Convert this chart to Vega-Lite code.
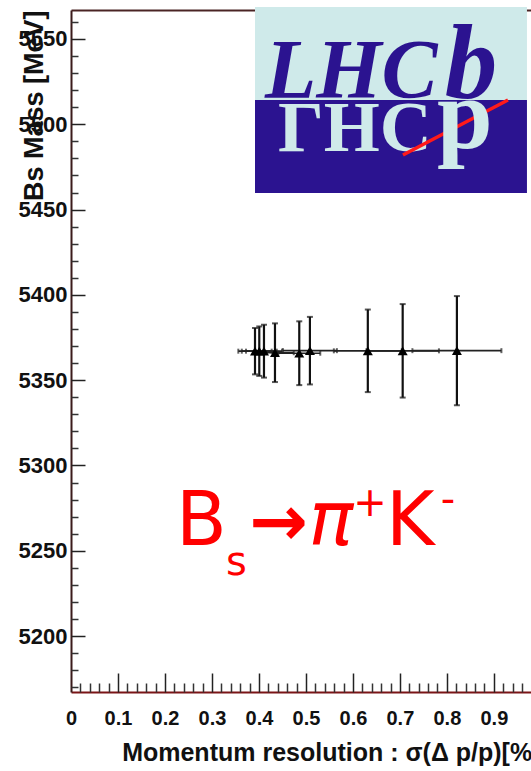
{
  "$schema": "https://vega.github.io/schema/vega-lite/v6.json",
  "width": 460,
  "height": 682,
  "autosize": "none",
  "padding": {"left": 71, "top": 10, "right": 0, "bottom": 79},
  "background": "white",
  "config": {
    "view": {"stroke": null},
    "axis": {"grid": false}
  },
  "data": {
    "values": [
      {"sigma": 0.3916, "sigma_lo": 0.3561, "sigma_hi": 0.4271, "mass": 5367.0, "mass_lo": 5353.4, "mass_hi": 5380.6},
      {"sigma": 0.4007, "sigma_lo": 0.3635, "sigma_hi": 0.4379, "mass": 5367.0, "mass_lo": 5352.5, "mass_hi": 5381.5},
      {"sigma": 0.4107, "sigma_lo": 0.3724, "sigma_hi": 0.4490, "mass": 5367.0, "mass_lo": 5351.5, "mass_hi": 5382.5},
      {"sigma": 0.4341, "sigma_lo": 0.3941, "sigma_hi": 0.4741, "mass": 5366.1, "mass_lo": 5348.9, "mass_hi": 5383.3},
      {"sigma": 0.4858, "sigma_lo": 0.4411, "sigma_hi": 0.5305, "mass": 5365.8, "mass_lo": 5347.1, "mass_hi": 5384.5},
      {"sigma": 0.5085, "sigma_lo": 0.4511, "sigma_hi": 0.5659, "mass": 5367.3, "mass_lo": 5347.5, "mass_hi": 5387.1},
      {"sigma": 0.6317, "sigma_lo": 0.5594, "sigma_hi": 0.7040, "mass": 5367.2, "mass_lo": 5343.0, "mass_hi": 5391.4},
      {"sigma": 0.7059, "sigma_lo": 0.6287, "sigma_hi": 0.7831, "mass": 5367.2, "mass_lo": 5339.8, "mass_hi": 5394.6},
      {"sigma": 0.8213, "sigma_lo": 0.7266, "sigma_hi": 0.9160, "mass": 5367.3, "mass_lo": 5335.3, "mass_hi": 5399.3}
    ]
  },
  "resolve": {"axis": {"x": "independent", "y": "independent"}},
  "layer": [
    {
      "mark": {"type": "rule", "color": "#111", "strokeWidth": 2.2},
      "encoding": {
        "x": {
          "field": "sigma", "type": "quantitative",
          "scale": {"domain": [0, 0.979], "nice": false, "zero": false},
          "axis": {
            "orient": "bottom",
            "values": [0, 0.1, 0.2, 0.3, 0.4, 0.5, 0.6, 0.7, 0.8, 0.9],
            "format": ".1~f",
            "ticks": false,
            "domainColor": "#7a1416", "domainWidth": 2,
            "labelFont": "Liberation Sans", "labelFontWeight": "bold", "labelFontSize": 20,
            "labelColor": "#111", "labelPadding": 16, "labelFlush": false, "labelOverlap": false, "labelBound": false,
            "title": "Momentum resolution : σ(Δ p/p)[%]",
            "titleFont": "Liberation Sans", "titleFontWeight": "bold", "titleFontSize": 25, "titleColor": "#111",
            "titleX": 469, "titleY": 68, "titleAlign": "right", "titleBaseline": "alphabetic", "titleAnchor": "end"
          }
        },
        "y": {
          "field": "mass_lo", "type": "quantitative",
          "scale": {"domain": [5167.2, 5567], "nice": false, "zero": false},
          "axis": {
            "orient": "left",
            "values": [5200, 5250, 5300, 5350, 5400, 5450, 5500, 5550],
            "format": "d",
            "ticks": false,
            "domainColor": "#3b1b1b", "domainWidth": 2,
            "labelFont": "Liberation Sans", "labelFontWeight": "bold", "labelFontSize": 22,
            "labelColor": "#111", "labelPadding": 4, "labelAlign": "right", "labelBaseline": "middle",
            "labelFlush": false, "labelOverlap": false, "labelBound": false,
            "title": "Bs Mass [MeV]",
            "titleFont": "Liberation Sans", "titleFontWeight": "bold", "titleFontSize": 27, "titleColor": "#111",
            "titleX": -29, "titleY": 0, "titleAngle": -90, "titleAlign": "right", "titleBaseline": "alphabetic", "titleAnchor": "end"
          }
        },
        "y2": {"field": "mass_hi"}
      }
    },
    {
      "mark": {"type": "rule", "color": "#222", "strokeWidth": 1.6},
      "encoding": {
        "x": {
          "field": "sigma_lo", "type": "quantitative",
          "scale": {"domain": [0, 0.979], "nice": false, "zero": false},
          "axis": {
            "orient": "bottom",
            "values": [0.1, 0.2, 0.3, 0.4, 0.5, 0.6, 0.7, 0.8, 0.9],
            "labels": false, "domain": false, "title": null,
            "tickSize": -19, "tickColor": "#222", "tickWidth": 1.5
          }
        },
        "x2": {"field": "sigma_hi"},
        "y": {
          "field": "mass", "type": "quantitative",
          "scale": {"domain": [5167.2, 5567], "nice": false, "zero": false},
          "axis": {
            "orient": "left",
            "values": [5200, 5250, 5300, 5350, 5400, 5450, 5500, 5550],
            "labels": false, "domain": false, "title": null,
            "tickSize": -14, "tickColor": "#222", "tickWidth": 1.5
          }
        }
      }
    },
    {
      "mark": {"type": "tick", "orient": "horizontal", "size": 6, "thickness": 2, "color": "#111"},
      "encoding": {
        "x": {
          "field": "sigma", "type": "quantitative",
          "scale": {"domain": [0, 0.979], "nice": false, "zero": false},
          "axis": {
            "orient": "bottom",
            "values": [0.02, 0.04, 0.06, 0.08, 0.12, 0.14, 0.16, 0.18, 0.22, 0.24, 0.26, 0.28, 0.32, 0.34, 0.36, 0.38, 0.42, 0.44, 0.46, 0.48, 0.52, 0.54, 0.56, 0.58, 0.62, 0.64, 0.66, 0.68, 0.72, 0.74, 0.76, 0.78, 0.82, 0.84, 0.86, 0.88, 0.92, 0.94, 0.96],
            "labels": false, "domain": false, "title": null,
            "tickSize": -9, "tickColor": "#333", "tickWidth": 1.5
          }
        },
        "y": {
          "field": "mass_hi", "type": "quantitative",
          "scale": {"domain": [5167.2, 5567], "nice": false, "zero": false},
          "axis": {
            "orient": "left",
            "values": [5170, 5180, 5190, 5210, 5220, 5230, 5240, 5260, 5270, 5280, 5290, 5310, 5320, 5330, 5340, 5360, 5370, 5380, 5390, 5410, 5420, 5430, 5440, 5460, 5470, 5480, 5490, 5510, 5520, 5530, 5540, 5560],
            "labels": false, "domain": false, "title": null,
            "tickSize": -7, "tickColor": "#333", "tickWidth": 1.5
          }
        }
      }
    },
    {
      "mark": {"type": "tick", "orient": "horizontal", "size": 6, "thickness": 2, "color": "#111"},
      "encoding": {
        "x": {
          "field": "sigma", "type": "quantitative",
          "scale": {"domain": [0, 0.979], "nice": false, "zero": false},
          "axis": {
            "orient": "top", "ticks": false, "labels": false, "title": null,
            "domainColor": "#4a2424", "domainWidth": 2
          }
        },
        "y": {
          "field": "mass_lo", "type": "quantitative",
          "scale": {"domain": [5167.2, 5567], "nice": false, "zero": false},
          "axis": null
        }
      }
    },
    {
      "mark": {"type": "tick", "orient": "vertical", "size": 5, "thickness": 2, "color": "#222"},
      "encoding": {
        "x": {"field": "sigma_lo", "type": "quantitative", "scale": {"domain": [0, 0.979], "nice": false, "zero": false}, "axis": null},
        "y": {"field": "mass", "type": "quantitative", "scale": {"domain": [5167.2, 5567], "nice": false, "zero": false}, "axis": null}
      }
    },
    {
      "mark": {"type": "tick", "orient": "vertical", "size": 5, "thickness": 2, "color": "#222"},
      "encoding": {
        "x": {"field": "sigma_hi", "type": "quantitative", "scale": {"domain": [0, 0.979], "nice": false, "zero": false}, "axis": null},
        "y": {"field": "mass", "type": "quantitative", "scale": {"domain": [5167.2, 5567], "nice": false, "zero": false}, "axis": null}
      }
    },
    {
      "mark": {"type": "point", "shape": "triangle-up", "filled": true, "color": "#000", "size": 100, "opacity": 1},
      "encoding": {
        "x": {"field": "sigma", "type": "quantitative", "scale": {"domain": [0, 0.979], "nice": false, "zero": false}, "axis": null},
        "y": {"field": "mass", "type": "quantitative", "scale": {"domain": [5167.2, 5567], "nice": false, "zero": false}, "axis": null}
      }
    },
    {
      "data": {"values": [{}]},
      "mark": {"type": "text", "text": "B", "font": "DejaVu Sans", "fontSize": 74, "color": "#ff0000", "align": "left", "baseline": "alphabetic"},
      "encoding": {
        "x": {"datum": 0.2234, "type": "quantitative", "scale": {"domain": [0, 0.979], "nice": false, "zero": false}, "axis": null},
        "y": {"datum": 5253.2, "type": "quantitative", "scale": {"domain": [5167.2, 5567], "nice": false, "zero": false}, "axis": null}
      }
    },
    {
      "data": {"values": [{}]},
      "mark": {"type": "text", "text": "s", "font": "DejaVu Sans", "fontSize": 40, "color": "#ff0000", "align": "left", "baseline": "alphabetic"},
      "encoding": {
        "x": {"datum": 0.3299, "type": "quantitative", "scale": {"domain": [0, 0.979], "nice": false, "zero": false}, "axis": null},
        "y": {"datum": 5235.6, "type": "quantitative", "scale": {"domain": [5167.2, 5567], "nice": false, "zero": false}, "axis": null}
      }
    },
    {
      "data": {"values": [{}]},
      "mark": {"type": "text", "text": "→", "font": "DejaVu Sans", "fontWeight": "bold", "fontSize": 70, "color": "#ff0000", "align": "center", "baseline": "alphabetic"},
      "encoding": {
        "x": {"datum": 0.4416, "type": "quantitative", "scale": {"domain": [0, 0.979], "nice": false, "zero": false}, "axis": null},
        "y": {"datum": 5253.2, "type": "quantitative", "scale": {"domain": [5167.2, 5567], "nice": false, "zero": false}, "axis": null}
      }
    },
    {
      "data": {"values": [{}]},
      "mark": {"type": "text", "text": "π", "font": "DejaVu Sans", "fontStyle": "italic", "fontSize": 74, "color": "#ff0000", "align": "center", "baseline": "alphabetic"},
      "encoding": {
        "x": {"datum": 0.5533, "type": "quantitative", "scale": {"domain": [0, 0.979], "nice": false, "zero": false}, "axis": null},
        "y": {"datum": 5253.2, "type": "quantitative", "scale": {"domain": [5167.2, 5567], "nice": false, "zero": false}, "axis": null}
      }
    },
    {
      "data": {"values": [{}]},
      "mark": {"type": "text", "text": "+", "font": "DejaVu Sans", "fontSize": 40, "color": "#ff0000", "align": "center", "baseline": "alphabetic"},
      "encoding": {
        "x": {"datum": 0.6363, "type": "quantitative", "scale": {"domain": [0, 0.979], "nice": false, "zero": false}, "axis": null},
        "y": {"datum": 5270.2, "type": "quantitative", "scale": {"domain": [5167.2, 5567], "nice": false, "zero": false}, "axis": null}
      }
    },
    {
      "data": {"values": [{}]},
      "mark": {"type": "text", "text": "K", "font": "DejaVu Sans", "fontSize": 74, "color": "#ff0000", "align": "left", "baseline": "alphabetic"},
      "encoding": {
        "x": {"datum": 0.6703, "type": "quantitative", "scale": {"domain": [0, 0.979], "nice": false, "zero": false}, "axis": null},
        "y": {"datum": 5253.2, "type": "quantitative", "scale": {"domain": [5167.2, 5567], "nice": false, "zero": false}, "axis": null}
      }
    },
    {
      "data": {"values": [{}]},
      "mark": {"type": "text", "text": "-", "font": "DejaVu Sans", "fontSize": 40, "color": "#ff0000", "align": "center", "baseline": "alphabetic"},
      "encoding": {
        "x": {"datum": 0.8023, "type": "quantitative", "scale": {"domain": [0, 0.979], "nice": false, "zero": false}, "axis": null},
        "y": {"datum": 5272.0, "type": "quantitative", "scale": {"domain": [5167.2, 5567], "nice": false, "zero": false}, "axis": null}
      }
    },
    {
      "data": {"values": [{}]},
      "mark": {"type": "rect", "color": "#cfeaea"},
      "encoding": {
        "x": {"datum": 0.3916, "type": "quantitative", "scale": {"domain": [0, 0.979], "nice": false, "zero": false}, "axis": null},
        "x2": {"datum": 0.9704},
        "y": {"datum": 5568.8, "type": "quantitative", "scale": {"domain": [5167.2, 5567], "nice": false, "zero": false}, "axis": null},
        "y2": {"datum": 5514.2}
      }
    },
    {
      "data": {"values": [{}]},
      "mark": {"type": "rect", "color": "#2b1390"},
      "encoding": {
        "x": {"datum": 0.3916, "type": "quantitative", "scale": {"domain": [0, 0.979], "nice": false, "zero": false}, "axis": null},
        "x2": {"datum": 0.9704},
        "y": {"datum": 5514.2, "type": "quantitative", "scale": {"domain": [5167.2, 5567], "nice": false, "zero": false}, "axis": null},
        "y2": {"datum": 5459.7}
      }
    },
    {
      "data": {"values": [{}]},
      "mark": {"type": "text", "text": "LHC", "font": "Liberation Serif", "fontWeight": "bold", "fontStyle": "italic", "fontSize": 84, "color": "#2b1390", "align": "left", "baseline": "alphabetic"},
      "encoding": {
        "x": {"datum": 0.4128, "type": "quantitative", "scale": {"domain": [0, 0.979], "nice": false, "zero": false}, "axis": null},
        "y": {"datum": 5515.4, "type": "quantitative", "scale": {"domain": [5167.2, 5567], "nice": false, "zero": false}, "axis": null}
      }
    },
    {
      "data": {"values": [{}]},
      "mark": {"type": "text", "text": "b", "font": "Liberation Serif", "fontWeight": "bold", "fontStyle": "italic", "fontSize": 105, "color": "#2b1390", "align": "left", "baseline": "alphabetic"},
      "encoding": {
        "x": {"datum": 0.7953, "type": "quantitative", "scale": {"domain": [0, 0.979], "nice": false, "zero": false}, "axis": null},
        "y": {"datum": 5515.4, "type": "quantitative", "scale": {"domain": [5167.2, 5567], "nice": false, "zero": false}, "axis": null}
      }
    },
    {
      "data": {"values": [{}]},
      "mark": {"type": "text", "text": "ΓHC", "font": "Liberation Serif", "fontWeight": "bold", "fontSize": 72, "color": "#cfeaea", "align": "left", "baseline": "alphabetic"},
      "encoding": {
        "x": {"datum": 0.4405, "type": "quantitative", "scale": {"domain": [0, 0.979], "nice": false, "zero": false}, "axis": null},
        "y": {"datum": 5484.5, "type": "quantitative", "scale": {"domain": [5167.2, 5567], "nice": false, "zero": false}, "axis": null}
      }
    },
    {
      "data": {"values": [{}]},
      "mark": {"type": "rule", "color": "#ff1a1a", "strokeWidth": 3.5},
      "encoding": {
        "x": {"datum": 0.7065, "type": "quantitative", "scale": {"domain": [0, 0.979], "nice": false, "zero": false}, "axis": null},
        "x2": {"datum": 0.93},
        "y": {"datum": 5482.0, "type": "quantitative", "scale": {"domain": [5167.2, 5567], "nice": false, "zero": false}, "axis": null},
        "y2": {"datum": 5514.2}
      }
    },
    {
      "data": {"values": [{}]},
      "mark": {"type": "text", "text": "p", "font": "Liberation Serif", "fontWeight": "bold", "fontSize": 100, "color": "#cfeaea", "align": "left", "baseline": "alphabetic"},
      "encoding": {
        "x": {"datum": 0.7789, "type": "quantitative", "scale": {"domain": [0, 0.979], "nice": false, "zero": false}, "axis": null},
        "y": {"datum": 5486.2, "type": "quantitative", "scale": {"domain": [5167.2, 5567], "nice": false, "zero": false}, "axis": null}
      }
    }
  ]
}
